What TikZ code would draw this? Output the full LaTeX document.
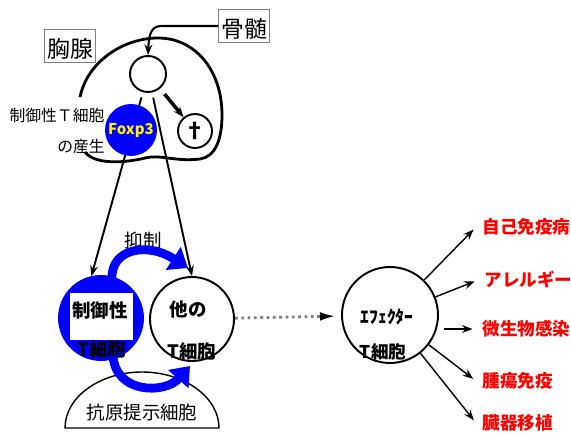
\documentclass[tikz,border=0pt]{standalone}
\usepackage{fontspec}
\setmainfont{Noto Sans CJK JP}
\usetikzlibrary{arrows.meta}

\begin{document}
\begin{tikzpicture}[x=0.02cm, y=-0.02cm, line width=0.8pt, >={Stealth[length=6pt, width=4.5pt]},
  cell/.style={circle, draw, line width=1.1pt, inner sep=0pt, fill=white},
  organ/.style={draw=gray, line width=0.4pt, inner xsep=1.5pt, inner ysep=1pt,
    text height=15pt, text depth=2pt, font=\fontsize{13}{14}\selectfont},
  txt/.style={font=\bfseries\fontsize{10.5}{12}\selectfont},
  small/.style={font=\fontsize{9}{10}\selectfont},
  disease/.style={anchor=west, text=red, font=\bfseries\fontsize{10}{12}\selectfont},
  inhib/.style={blue, line width=5pt, -{Triangle[length=10pt, width=15pt]}}]
  \useasboundingbox (0,0) rectangle (571,439);

  \draw[line width=1.6pt] (80,97) .. controls (88,60) and (125,38) .. (158,38)
    .. controls (195,38) and (222,70) .. (222,115)
    .. controls (222,140) and (215,157) .. (200,159)
    .. controls (175,162) and (160,154) .. (145,158)
    .. controls (125,163) and (95,165) .. (85,152);
  \node[organ] (thymus) at (70,46) {胸腺};
  \node[organ] (marrow) at (244,26) {骨髄};
  \node[cell, minimum size=0.72cm] (precursor) at (148,74) {};
  \node[cell, minimum size=0.68cm, font=\bfseries\fontsize{12}{12}\selectfont] (dead) at (195,131) {†};
  \node[small] (tregtxt) at (57,115) {制御性Ｔ細胞};
  \node[small] (birth) at (81,146) {の産生};

  \draw[fill=white] (65,428) .. controls (65,397) and (100,372) .. (142,372)
    .. controls (184,372) and (219,397) .. (219,428) -- cycle;
  \node[font=\fontsize{10.5}{12}\selectfont] (apc) at (142,412) {抗原提示細胞};
  \node[cell, fill=blue, draw=blue, minimum size=1.68cm] (treg) at (101,318) {};
  \node[fill=white, minimum width=1.26cm, minimum height=0.94cm] (mask) at (101.5,316.5) {};
  \node[txt] (treg1) at (100,310) {制御性};
  \node[txt] (treg2) at (102,350) {T細胞};
  \node[cell, minimum size=1.68cm] (other) at (192,319) {};
  \node[txt] (other1) at (188,310) {他の};
  \node[txt] (other2) at (192,352) {T細胞};
  \node[cell, minimum size=1.92cm] (effector) at (390,315) {};
  \node[font=\bfseries\fontsize{10}{11}\selectfont] (eff1) at (387,317) {ｴﾌｪｸﾀｰ};
  \node[txt, font=\bfseries\fontsize{10}{11}\selectfont] (eff2) at (383,352) {T細胞};
  \node[font=\fontsize{10.5}{12}\selectfont] (supp) at (143,240) {抑制};

  \draw[->, line width=1.2pt] (marrow.west) -- (162,26) .. controls (152,26) and (149,32) .. (precursor.north);
  \path[->, line width=1.1pt, shorten <=3pt]
    (precursor) edge (treg.103)
                edge (other.north);
  \draw[->, line width=2pt, shorten <=4pt] (precursor) -- (dead);
  \node[circle, fill=blue, minimum size=1.04cm, inner sep=0pt, text=yellow,
    font=\bfseries\fontsize{8.5}{10}\selectfont] (foxp3) at (131,130) {Foxp3};

  \draw[inhib] (112,280) .. controls (110,248) and (148,242) .. (188,268);
  \draw[inhib] (113,356) .. controls (116,394) and (165,394) .. (190,366);

  \draw[gray, dotted, line width=1.6pt, -{Latex[black, length=9pt, width=5pt]}, shorten >=3pt] (other) -- (effector);

  \node[disease] (d1) at (476,227) {自己免疫病};
  \node[disease] (d2) at (478,280) {アレルギー};
  \node[disease] (d3) at (476,329) {微生物感染};
  \node[disease] (d4) at (476,381) {腫瘍免疫};
  \node[disease] (d5) at (476,423) {臓器移植};
  \path[->, shorten >=2pt]
    (effector) edge (d1.west)
               edge (d2.west)
               edge (d4.west)
               edge (d5.west);
  \draw[->, shorten <=3pt, shorten >=2pt] (effector.east |- d3.west) -- (d3.west);
\end{tikzpicture}
\end{document}
